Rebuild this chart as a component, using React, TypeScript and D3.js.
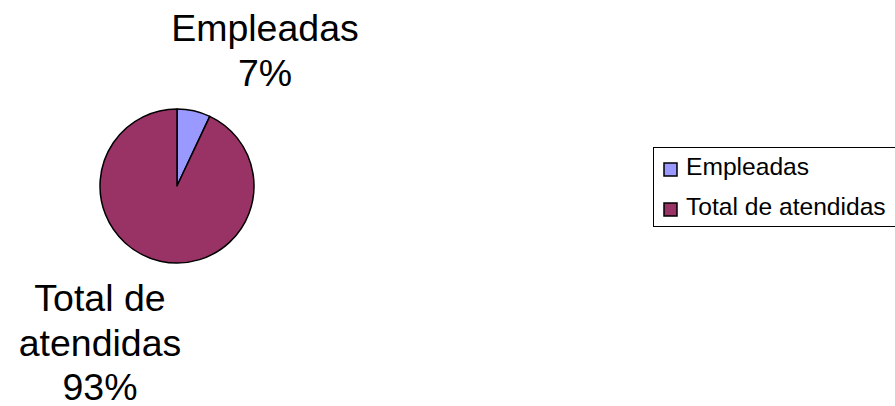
import React from "react";
import * as d3 from "d3";

const categories = ["Empleadas", "Total de atendidas"];
const values = [7, 93];
const labelLines = [["Empleadas", "7%"], ["Total de", "atendidas", "93%"]];
const colors = ["#9999FF", "#993366"];

export default function App() {
  const W = 895, H = 406;
  const cx = 177, cy = 186, r = 77;
  const pie = d3.pie<number>().sort(null).value((d) => d)(values);
  const arc = d3.arc<d3.PieArcDatum<number>>().innerRadius(0).outerRadius(r);
  const font = "'Liberation Sans', Arial, sans-serif";
  const labelPos = [
    { x: 265, y: 41 },
    { x: 100, y: 311 },
  ];
  const lh = 44.5;
  return (
    <svg width={W} height={H} style={{ position: "absolute", left: 0, top: 0, background: "#fff" }} fontFamily={font}>
      <rect x={0} y={0} width={W} height={H} fill="#fff" />
      <g transform={`translate(${cx},${cy})`}>
        {pie.map((p, i) => (
          <path key={i} d={arc(p) || ""} fill={colors[i]} stroke="#000" strokeWidth={1.5} strokeLinejoin="round" />
        ))}
      </g>
      {labelLines.map((lines, i) => (
        <text key={i} textAnchor="middle" fontSize={37.5} fill="#000">
          {lines.map((t, j) => (
            <tspan key={j} x={labelPos[i].x} y={labelPos[i].y + j * lh}>{t}</tspan>
          ))}
        </text>
      ))}
      <rect x={653.5} y={147.5} width={260} height={79} fill="none" stroke="#000" strokeWidth={1} />
      {categories.map((c, i) => (
        <g key={c}>
          <rect x={664} y={163 + i * 40} width={13} height={13} fill={colors[i]} stroke="#000" strokeWidth={1.5} />
          <text x={686} y={175 + i * 40} fontSize={24.6} fill="#000">{c}</text>
        </g>
      ))}
    </svg>
  );
}
